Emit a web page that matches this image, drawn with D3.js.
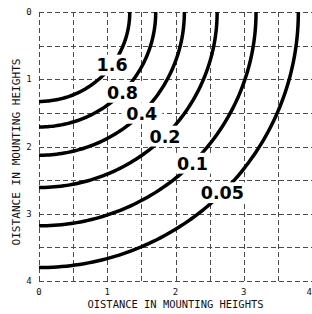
<!DOCTYPE html>
<html>
<head>
<meta charset="utf-8">
<script src="https://cdn.jsdelivr.net/npm/d3@7"></script>
<style>
  html, body { margin: 0; padding: 0; background: #fff; }
  svg { display: block; }
  .tick-label { font-family: "DejaVu Sans Mono", monospace; font-size: 9px; fill: #111; }
  .axis-title { font-family: "DejaVu Sans Mono", monospace; font-size: 10px; fill: #111; }
  .contour-label { font-family: "DejaVu Sans", sans-serif; font-weight: bold; font-size: 17.5px; fill: #000; }
</style>
</head>
<body>
<svg id="chart" width="312" height="314"></svg>
<script>
// isolux contours, radius in mounting heights
const contourValues = ['1.6', '0.8', '0.4', '0.2', '0.1', '0.05'];
const contourRadii = [1.33, 1.71, 2.13, 2.61, 3.18, 3.80];
// where each label sits along its contour (degrees from the x axis)
const labelAngles = [36.4, 44.3, 45, 45, 45, 45];

const tickValues = [0, 1, 2, 3, 4];
const gridValues = [0, 0.5, 1, 1.5, 2, 2.5, 3, 3.5, 4];
const axisTitle = 'OISTANCE IN MOUNTING HEIGHTS';

const svg = d3.select('#chart'),
    margin = {top: 12, right: 0, bottom: 33, left: 39},
    width = +svg.attr('width') - margin.left - margin.right,
    height = +svg.attr('height') - margin.top - margin.bottom;

const x = d3.scaleLinear().domain([0, 4]).range([margin.left, margin.left + width]);
const y = d3.scaleLinear().domain([0, 4]).range([margin.top, margin.top + height]);

// dashed grid
const grid = svg.append('g')
    .attr('stroke', '#4a4a4a')
    .attr('stroke-width', 1)
    .attr('stroke-dasharray', '5,3');

grid.selectAll('.vline')
    .data(gridValues)
    .enter().append('line')
        .attr('x1', d => Math.round(x(d)) + 0.5)
        .attr('x2', d => Math.round(x(d)) + 0.5)
        .attr('y1', y(0))
        .attr('y2', y(4));

grid.selectAll('.hline')
    .data(gridValues)
    .enter().append('line')
        .attr('y1', d => Math.round(y(d)) + 0.5)
        .attr('y2', d => Math.round(y(d)) + 0.5)
        .attr('x1', x(0))
        .attr('x2', x(4));

// quarter circle contours around the luminaire at the origin
const line = d3.line()
    .x(d => x(d[0]))
    .y(d => y(d[1]));

function arcPoints(r) {
    const pts = [];
    for (let a = 0; a <= 90; a += 1) {
        const t = a * Math.PI / 180;
        pts.push([r * Math.cos(t), r * Math.sin(t)]);
    }
    return pts;
}

svg.append('g').selectAll('path')
    .data(contourRadii)
    .enter().append('path')
        .attr('d', d => line(arcPoints(d)))
        .attr('fill', 'none')
        .attr('stroke', '#000')
        .attr('stroke-width', 3.5);

// labels sit on a white box that breaks the curve and grid
const labels = svg.append('g').selectAll('g')
    .data(contourValues)
    .enter().append('g')
        .attr('transform', function(d, i) {
            const t = labelAngles[i] * Math.PI / 180;
            const r = contourRadii[i];
            return 'translate(' + x(r * Math.cos(t)) + ',' + y(r * Math.sin(t)) + ')';
        });

const texts = labels.append('text')
    .attr('class', 'contour-label')
    .attr('text-anchor', 'middle')
    .attr('y', 6.4)
    .text(d => d);

texts.each(function() {
    const bb = this.getBBox();
    d3.select(this.parentNode).insert('rect', 'text')
        .attr('x', bb.x - 5)
        .attr('y', -6.4 - 4)
        .attr('width', bb.width + 10)
        .attr('height', 12.8 + 8)
        .attr('fill', '#fff');
});

// tick labels
svg.append('g').selectAll('text')
    .data(tickValues)
    .enter().append('text')
        .attr('class', 'tick-label')
        .attr('x', 29)
        .attr('y', d => y(d) + 3)
        .attr('text-anchor', 'middle')
        .text(d => d);

svg.append('g').selectAll('text')
    .data(tickValues)
    .enter().append('text')
        .attr('class', 'tick-label')
        .attr('x', (d, i) => i === tickValues.length - 1 ? x(d) : x(d))
        .attr('y', 295)
        .attr('text-anchor', (d, i) => i === tickValues.length - 1 ? 'end' : 'middle')
        .text(d => d);

// axis titles
svg.append('text')
    .attr('class', 'axis-title')
    .attr('x', x(2))
    .attr('y', 308)
    .attr('text-anchor', 'middle')
    .attr('textLength', 176)
    .attr('lengthAdjust', 'spacingAndGlyphs')
    .text(axisTitle);

svg.append('text')
    .attr('class', 'axis-title')
    .attr('transform', 'translate(20,152) rotate(-90)')
    .attr('text-anchor', 'middle')
    .attr('textLength', 187)
    .attr('lengthAdjust', 'spacingAndGlyphs')
    .text(axisTitle);
</script>
</body>
</html>
